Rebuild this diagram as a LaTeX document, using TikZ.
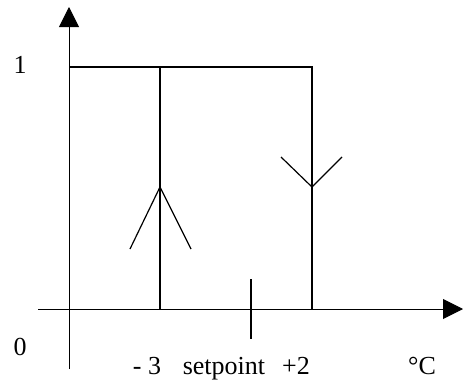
\documentclass[tikz,border=0pt]{standalone}
\usepackage{fontspec}
\setmainfont{Liberation Serif}
\usetikzlibrary{arrows.meta}
\begin{document}
\begin{tikzpicture}[x=1pt,y=-1pt,
  axis/.style={line width=1pt,-{Triangle[length=20pt,width=20pt]}},
  relay/.style={line width=1.5pt},
  tip/.style={line width=1.2pt},
  lbl/.style={font=\fontsize{26}{30}\selectfont,inner sep=0pt,anchor=base}]
\useasboundingbox (0,0) rectangle (464,380);
% coordinates
\coordinate (ytop) at (69,7);
\coordinate (ybot) at (69,369);
\coordinate (xleft) at (38,309);
\coordinate (xright) at (463,309);
\coordinate (tl) at (69,67);
\coordinate (tr) at (312,67);
\coordinate (lt) at (160,67);
\coordinate (lb) at (160,309);
\coordinate (rb) at (312,309);
\coordinate (ua) at (160,187);
\coordinate (ual) at (130,249);
\coordinate (uar) at (191,249);
\coordinate (da) at (312,187);
\coordinate (dal) at (281,157);
\coordinate (dar) at (342,157);
\coordinate (st) at (251,279);
\coordinate (sb) at (251,339);
% axes
\draw[axis] (ybot) -- (ytop);
\draw[axis] (xleft) -- (xright);
% relay curve
\draw[relay] (tl) -- (tr) -- (rb);
\draw[relay] (lt) -- (lb);
% direction marks
\draw[tip] (ual) -- (ua) -- (uar);
\draw[tip] (dal) -- (da) -- (dar);
% setpoint tick
\draw[relay] (st) -- (sb);
% labels
\node[lbl] (one) at (20,73) {1};
\node[lbl] (zero) at (20,355) {0};
\node[lbl] (m3) at (147,374) {- 3};
\node[lbl] (sp) at (224,374) {setpoint};
\node[lbl] (p2) at (296,374) {+2};
\node[lbl] (deg) at (422,374) {°C};
\end{tikzpicture}
\end{document}
